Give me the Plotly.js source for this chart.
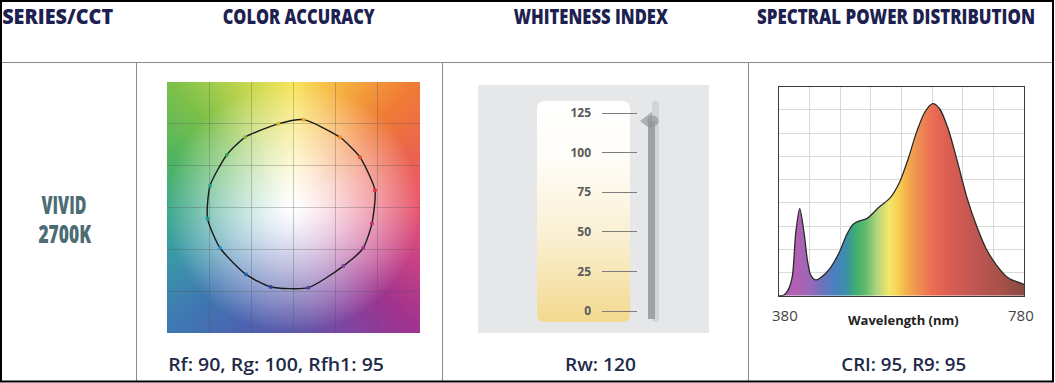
<!DOCTYPE html>
<html><head><meta charset="utf-8">
<script src="https://cdn.plot.ly/plotly-3.0.1.min.js"></script>
<style>html,body{margin:0;padding:0;background:#fff;overflow:hidden}#chart{width:1055px;height:383px}</style>
</head><body><div id="chart"></div>
<script>
// ---------- data ----------
const headers = ['SERIES/CCT', 'COLOR ACCURACY', 'WHITENESS INDEX', 'SPECTRAL POWER DISTRIBUTION'];
const seriesName = 'VIVID';
const cctLabel = '2700K';
const rf = 90, rg = 100, rfh1 = 95;
const rw = 120;
const cri = 95, r9 = 95;

// TM-30 colour vector graphic: test-source points per hue bin (normalised a'/b' plane, reference circle radius 1)
const refRadius = 1;
const testX = [0.966, 0.788, 0.551, 0.120, -0.180, -0.575, -0.790, -0.990, -1.020, -0.871, -0.563, -0.270, 0.176, 0.590, 0.827, 0.930];
const testY = [0.207, 0.602, 0.839, 1.050, 1.000, 0.839, 0.630, 0.260, -0.130, -0.484, -0.800, -0.950, -0.958, -0.700, -0.484, -0.190];
const binColors = ['#e0303a', '#e85030', '#f08a20', '#f0a818', '#d8b820', '#8ab040', '#40a050', '#20a080',
                   '#10a0a0', '#2090c0', '#2060b0', '#3040a0', '#5040a0', '#8040a0', '#a03090', '#c03070'];

// whiteness scale
const whitenessTicks = [0, 25, 50, 75, 100, 125];

// spectral power distribution (relative)
const wavelength = [380, 388, 395, 401.7, 407.3, 413.8, 421, 426.3, 431.8, 440, 449, 463, 479, 490, 500, 508, 524, 544, 561, 577, 591, 604, 618, 631, 642, 656, 670, 686, 702, 718, 735, 754, 780];
const spd        = [0, 0.3, 2.5, 8.2, 26.9, 37.5, 26.9, 15.4, 8.9, 6.8, 8, 11.7, 19, 26, 30.5, 31.9, 33.3, 38.3, 42, 49, 59, 70, 79, 82.7, 80.6, 72, 59, 43, 30.4, 20.3, 13.2, 7.7, 4.9];

// ---------- styling helpers ----------
const W = 1055, H = 383;
const px = x => x / W;
const py = y => 1 - y / H;

const spectrumStops = [[380,'#b062b0'],[410,'#b160b3'],[430,'#9a68b8'],[450,'#6d72bb'],[470,'#4a80c0'],[490,'#3a8fa8'],
  [505,'#3fae72'],[520,'#5cba6a'],[540,'#b2d47e'],[560,'#f5e66a'],[575,'#f8d052'],[590,'#f4ab4a'],[610,'#ee8a52'],
  [630,'#ec6c52'],[660,'#d95c52'],[700,'#c05652'],[740,'#a8524a'],[780,'#8a4a44']];
const spectrumScale = spectrumStops.map(s => [(s[0] - 380) / 400, s[1]]);

const hueAnchors = [[0,'#e8566e'],[25,'#ec6450'],[45,'#f07a35'],[68,'#f5b040'],[90,'#f7e45a'],[112,'#c4d64e'],
  [135,'#7cc04a'],[158,'#4fb462'],[180,'#3faa8a'],[203,'#3a98a8'],[225,'#3f78b2'],[248,'#4c62b0'],[270,'#5b56a8'],
  [293,'#7c45a2'],[315,'#a0338e'],[338,'#cc4384'],[360,'#e8566e']];

function hex(c){ return [parseInt(c.slice(1,3),16), parseInt(c.slice(3,5),16), parseInt(c.slice(5,7),16)]; }

function gamutImage(){
  const w = 253, h = 251;
  const cv = document.createElement('canvas'); cv.width = w; cv.height = h;
  const ctx = cv.getContext('2d');
  const img = ctx.createImageData(w, h);
  const anchors = hueAnchors.map(a => [a[0], hex(a[1])]);
  for (let j = 0; j < h; j++) for (let i = 0; i < w; i++) {
    const u = (i + 0.5) / w * 3 - 1.5, v = 1.5 - (j + 0.5) / h * 3;
    let ang = Math.atan2(v, u) * 180 / Math.PI; if (ang < 0) ang += 360;
    let k = 0; while (k < anchors.length - 2 && ang > anchors[k + 1][0]) k++;
    const a0 = anchors[k], a1 = anchors[k + 1];
    const f = (ang - a0[0]) / (a1[0] - a0[0]);
    const col = [0,1,2].map(c => a0[1][c] + (a1[1][c] - a0[1][c]) * f);
    const r = Math.hypot(u, v);
    const t = Math.min(1, r / 1.5);
    const m = Math.pow(t, 1.3);
    const idx = (j * w + i) * 4;
    for (let c = 0; c < 3; c++) img.data[idx + c] = Math.round(255 + (col[c] - 255) * m);
    img.data[idx + 3] = 255;
  }
  ctx.putImageData(img, 0, 0);
  return cv.toDataURL();
}

function whitenessImage(){
  const w = 231, h = 248;
  const cv = document.createElement('canvas'); cv.width = w; cv.height = h;
  const ctx = cv.getContext('2d');
  ctx.fillStyle = '#e6e7e8'; ctx.fillRect(0, 0, w, h);
  const x0 = 59, y0 = 16, rw_ = 93, rh = 221, rad = 8;
  const g = ctx.createLinearGradient(0, y0, 0, y0 + rh);
  g.addColorStop(0, '#ffffff'); g.addColorStop(0.25, '#fffdf8'); g.addColorStop(0.6, '#faf0d4'); g.addColorStop(1, '#f3d98f');
  ctx.fillStyle = g;
  ctx.beginPath();
  ctx.moveTo(x0 + rad, y0); ctx.lineTo(x0 + rw_ - rad, y0); ctx.quadraticCurveTo(x0 + rw_, y0, x0 + rw_, y0 + rad);
  ctx.lineTo(x0 + rw_, y0 + rh - rad); ctx.quadraticCurveTo(x0 + rw_, y0 + rh, x0 + rw_ - rad, y0 + rh);
  ctx.lineTo(x0 + rad, y0 + rh); ctx.quadraticCurveTo(x0, y0 + rh, x0, y0 + rh - rad);
  ctx.lineTo(x0, y0 + rad); ctx.quadraticCurveTo(x0, y0, x0 + rad, y0);
  ctx.closePath(); ctx.fill();
  // slider track background (rounded ends)
  const tx = 174, tw = 7, ty0 = 15.5, ty1 = 237;
  ctx.fillStyle = '#d3d4d6';
  ctx.beginPath(); ctx.arc(tx + 3.5, ty0 + 3.5, 3.5, Math.PI, 0); ctx.lineTo(tx + tw, ty1 - 3.5);
  ctx.arc(tx + 3.5, ty1 - 3.5, 3.5, 0, Math.PI); ctx.closePath(); ctx.fill();
  return cv.toDataURL();
}

// ---------- traces ----------
const closedX = testX.concat([testX[0]]);
const closedY = testY.concat([testY[0]]);
const wBottom = -11 / 1.584, wTop = 125 + 13 / 1.584;

const traces = [
  { type:'scatter', mode:'lines', x:closedX, y:closedY, xaxis:'x', yaxis:'y',
    line:{color:'#1a1a1a', width:1.4, shape:'spline', smoothing:0.6}, hoverinfo:'skip' },
  { type:'scatter', mode:'markers', x:testX, y:testY, xaxis:'x', yaxis:'y',
    marker:{color:binColors, size:4}, hoverinfo:'skip' },
  // whiteness scale subplot (ticks/gridlines only)
  { type:'scatter', mode:'markers', x:[0.5], y:[whitenessTicks[0]], xaxis:'x2', yaxis:'y2',
    marker:{size:1, opacity:0}, hoverinfo:'skip' },
  // whiteness: filled track up to Rw, then pointer
  { type:'bar', x:[0], y:[rw - wBottom - 2], base:[wBottom + 2], width:[7], xaxis:'x4', yaxis:'y4',
    marker:{color:'#a0a2a5', line:{width:0}}, hoverinfo:'skip' },
  { type:'scatter', mode:'markers', x:[-3.5, 1.5], y:[rw, rw], xaxis:'x4', yaxis:'y4', cliponaxis:false,
    marker:{symbol:['triangle-left','circle'], size:[16, 11], color:'#939598', line:{width:0}}, hoverinfo:'skip' },
  // spectrum
  { type:'scatter', mode:'lines', x:wavelength, y:spd, xaxis:'x3', yaxis:'y3',
    fill:'tozeroy', fillgradient:{type:'horizontal', colorscale:spectrumScale},
    line:{color:'#2a2a2a', width:1.3, shape:'spline', smoothing:0.8}, hoverinfo:'skip' }
];

const hdrFont = {family:'"Open Sans", "DejaVu Sans", sans-serif', size:17, weight:800, color:'#1d2150'};
const vividFont = Object.assign({}, hdrFont, {size:17, color:'#4d6d76'});
const footFont = {family:'"Open Sans", sans-serif', size:17, weight:600, color:'#1f2b48'};

const headerX = [57.5, 298.5, 590.5, 896];
const headerW = [111, 153, 155, 278];
const annotations = headers.map((t, i) => ({text:t, x:px(headerX[i]), y:py(15.5), xref:'paper', yref:'paper',
  xanchor:'center', yanchor:'middle', showarrow:false, font:hdrFont}));
annotations.push(
  {text:seriesName, x:px(64), y:py(204), xref:'paper', yref:'paper', xanchor:'center', yanchor:'middle', showarrow:false, font:vividFont},
  {text:cctLabel, x:px(64.5), y:py(233), xref:'paper', yref:'paper', xanchor:'center', yanchor:'middle', showarrow:false, font:vividFont},
  {text:`Rf: ${rf}, Rg: ${rg}, Rfh1: ${rfh1}`, x:px(276), y:py(364), xref:'paper', yref:'paper', xanchor:'center', yanchor:'middle', showarrow:false, font:footFont},
  {text:`Rw: ${rw}`, x:px(600.5), y:py(364), xref:'paper', yref:'paper', xanchor:'center', yanchor:'middle', showarrow:false, font:footFont},
  {text:`CRI: ${cri}, R9: ${r9}`, x:px(903.5), y:py(364), xref:'paper', yref:'paper', xanchor:'center', yanchor:'middle', showarrow:false, font:footFont},
  {text:String(wavelength[0]), x:px(785), y:py(315), xref:'paper', yref:'paper', xanchor:'center', yanchor:'middle', showarrow:false,
    font:{family:'"Open Sans", sans-serif', size:15, color:'#444'}},
  {text:String(wavelength[wavelength.length-1]), x:px(1021), y:py(315), xref:'paper', yref:'paper', xanchor:'center', yanchor:'middle', showarrow:false,
    font:{family:'"Open Sans", sans-serif', size:15, color:'#444'}},
  {text:'Wavelength (nm)', x:px(903.5), y:py(320), xref:'paper', yref:'paper', xanchor:'center', yanchor:'middle', showarrow:false,
    font:{family:'"Open Sans", sans-serif', size:13, weight:700, color:'#222'}}
);
// target rendered [width px, vertical stretch] for the condensed typefaces of the original
const squeeze = {0:[headerW[0],1.28], 1:[headerW[1],1.28], 2:[headerW[2],1.28], 3:[headerW[3],1.28],
                 4:[45,1.4], 5:[53,1.4], 6:[216,1.05], 7:[71,1.05], 8:[125,1.05]};

const gridLine = (x0, y0, x1, y1, color, width) => ({type:'line', xref:'paper', yref:'paper',
  x0:px(x0), y0:py(y0), x1:px(x1), y1:py(y1), line:{color:color, width:width}});

const shapes = [
  {type:'circle', xref:'x', yref:'y', x0:-refRadius, y0:-refRadius, x1:refRadius, y1:refRadius,
    line:{color:'rgba(255,255,255,0.95)', width:2.4, dash:'dash'}, layer:'below'},
  gridLine(0, 62.5, 1053, 62.5, '#8a8a8a', 1),
  gridLine(136.5, 62.5, 136.5, 381, '#8a8a8a', 1),
  gridLine(442.5, 62.5, 442.5, 381, '#8a8a8a', 1),
  gridLine(748.5, 62.5, 748.5, 381, '#8a8a8a', 1),
  {type:'rect', xref:'paper', yref:'paper', x0:px(1), x1:px(1053), y0:py(381.5), y1:py(1), line:{color:'#000', width:2}}
];

const layout = {
  width:W, height:H, margin:{l:0, r:0, t:0, b:0}, paper_bgcolor:'#fff', plot_bgcolor:'rgba(0,0,0,0)', showlegend:false,
  bargap:0,
  xaxis:{domain:[px(167), px(420)], range:[-1.5, 1.5], tick0:0, dtick:0.5, showgrid:true, gridcolor:'rgba(80,80,80,0.3)', gridwidth:1,
    zeroline:false, showticklabels:false, ticks:'', fixedrange:true},
  yaxis:{domain:[py(333), py(82)], range:[-1.5, 1.5], tick0:0, dtick:0.5, showgrid:true, gridcolor:'rgba(80,80,80,0.3)', gridwidth:1,
    zeroline:false, showticklabels:false, ticks:'', fixedrange:true},
  xaxis2:{anchor:'y2', domain:[px(602), px(637)], range:[0, 1], showgrid:false, zeroline:false, showticklabels:false, ticks:'', showline:false, fixedrange:true},
  yaxis2:{anchor:'x2', domain:[py(322), py(100)], range:[wBottom, wTop], tickvals:whitenessTicks, showgrid:true, gridcolor:'#7d7d7d', gridwidth:1,
    zeroline:false, ticks:'', ticklabelstandoff:10, tickfont:{family:'"Open Sans", sans-serif', size:12, weight:700, color:'#58595b'}, fixedrange:true},
  xaxis4:{anchor:'y4', domain:[px(640), px(670)], range:[-11.5, 18.5], showgrid:false, zeroline:false, showticklabels:false, ticks:'', showline:false, fixedrange:true},
  yaxis4:{anchor:'x4', domain:[py(322), py(100)], range:[wBottom, wTop], showgrid:false, zeroline:false, showticklabels:false, ticks:'', showline:false, fixedrange:true},
  xaxis3:{anchor:'y3', domain:[px(779), px(1024)], range:[380, 780], tick0:380, dtick:50, showgrid:true, gridcolor:'#d9d9d9', gridwidth:1,
    zeroline:false, showticklabels:false, ticks:'', showline:true, mirror:true, linecolor:'#3a3a3a', linewidth:1, fixedrange:true},
  yaxis3:{anchor:'x3', domain:[py(295.7), py(86.7)], range:[0, 90], tick0:0, dtick:10, showgrid:true, gridcolor:'#d9d9d9', gridwidth:1,
    zeroline:false, showticklabels:false, ticks:'', showline:true, mirror:true, linecolor:'#3a3a3a', linewidth:1, fixedrange:true},
  images:[
    {source:gamutImage(), xref:'x', yref:'y', x:-1.5, y:1.5, sizex:3, sizey:3, xanchor:'left', yanchor:'top', sizing:'stretch', layer:'below'},
    {source:whitenessImage(), xref:'paper', yref:'paper', x:px(478), y:py(85), sizex:231 / W, sizey:248 / H, xanchor:'left', yanchor:'top', sizing:'stretch', layer:'below'}
  ],
  shapes:shapes,
  annotations:annotations
};

Plotly.newPlot('chart', traces, layout, {staticPlot:true, displayModeBar:false}).then(gd => {
  gd.querySelectorAll('g.annotation').forEach(g => {
    const idx = +g.getAttribute('data-index');
    const sq = squeeze[idx];
    if (!sq) return;
    const t = g.querySelector('text.annotation-text');
    if (!t) return;
    const bb = t.getBBox();
    if (!bb.width) return;
    const sx = sq[0] / bb.width, sy = sq[1];
    const cx = bb.x + bb.width / 2, cy = bb.y + bb.height / 2;
    t.setAttribute('transform', `translate(${cx},${cy}) scale(${sx},${sy}) translate(${-cx},${-cy})`);
  });
});
</script></body></html>
